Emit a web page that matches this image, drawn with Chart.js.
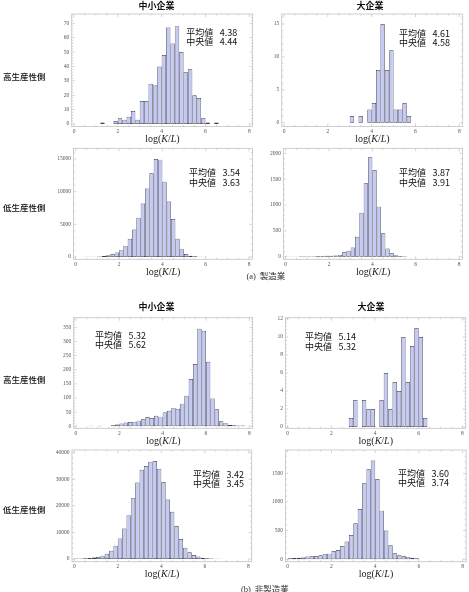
<!DOCTYPE html>
<html>
<head>
<meta charset="utf-8">
<script src="https://cdn.jsdelivr.net/npm/chart.js@4.4.1/dist/chart.umd.min.js"></script>
<style>
  html, body { margin: 0; padding: 0; background: #fff; }
  #root { position: relative; width: 469px; height: 592px; overflow: hidden; background: #fff; }
  canvas { position: absolute; }
  .t { position: absolute; white-space: nowrap; color: #111; }
  .cjk { font-family: "Noto Sans CJK JP", "Noto Sans", sans-serif; }
  .title { font-size: 9px; font-weight: 700; line-height: 9px; }
  .row { font-size: 8.5px; font-weight: 500; line-height: 9px; }
  .stat { font-size: 9px; line-height: 9px; }
  .stat span.k { display: inline-block; width: 33.5px; }
  .xl { font-family: "Liberation Serif", "DejaVu Serif", serif; font-size: 10px; line-height: 10px; color: #222; }
  .cap { font-size: 8.5px; line-height: 9px; color: #333; }
  .cap .p { font-family: "Liberation Serif", serif; }
</style>
</head>
<body>
<div id="root"></div>
<script>
// ---- data ----
const bins = [0.1,0.3,0.5,0.7,0.9,1.1,1.3,1.5,1.7,1.9,2.1,2.3,2.5,2.7,2.9,3.1,3.3,3.5,3.7,3.9,
              4.1,4.3,4.5,4.7,4.9,5.1,5.3,5.5,5.7,5.9,6.1,6.3,6.5,6.7,6.9,7.1,7.3,7.5,7.7,7.9];

const mfgSmallHigh = [0,0,0,0,0,0,1,0,0,2, 4,3,5,9,3,16,16,28,27,40, 48,67,56,68,50,36,38,20,18,4, 1,0,1,0,0,0,0,0,0,0];
const mfgLargeHigh = [0,0,0,0,0,0,0,0,0,0, 0,0,0,0,0,1,0,1,0,2, 3,8,15,8,11,2,2,3,1,0, 0,0,0,0,0,0,0,0,0,0];
const mfgSmallLow  = [10,15,20,30,50,80,150,280,450,700, 1050,1700,2800,4200,6000,8200,10500,12800,15000,14900,
                      11500,8500,5800,2800,1200,450,200,100,50,20, 0,0,0,0,0,0,0,0,0,0];
const mfgLargeLow  = [5,5,5,8,8,10,10,12,15,20, 20,25,35,84,116,180,387,851,1419,1925,
                      1677,968,452,161,65,30,15,8,0,0, 0,0,0,0,0,0,0,0,0,0];
const nonSmallHigh = [0,0,0,2,0,2,0,0,4,6, 10,13,15,16,20,25,33,29,37,34,
                      50,55,65,62,80,108,167,220,345,338, 228,98,60,18,12,5,4,3,3,0];
const nonLargeHigh = [0,0,0,0,0,0,0,0,0,0, 0,0,0,0,1,3,0,3,2,2, 0,3,6,2,5,4,10,5,9,11, 10,1,0,0,0,0,0,0,0,0];
const nonSmallLow  = [150,200,300,400,550,750,1250,2000,3100,5000, 7750,11500,16500,23000,28750,33600,35000,36600,36900,33900,
                      29000,22400,17750,12400,7500,4250,2500,1500,900,500, 300,200,120,60,30,0,0,0,0,0];
const nonLargeLow  = [15,20,25,30,45,50,55,70,92,97, 144,161,231,308,424,628,878,1327,1572,1724,
                      1403,849,500,243,103,70,55,40,25,15, 0,0,0,0,0,0,0,0,0,0];

const xTicks = [0, 2, 4, 6, 8];
const yTicks1 = [0,10,20,30,40,50,60,70];
const yTicks2 = [0,5,10,15];
const yTicks3 = [0,5000,10000,15000];
const yTicks4 = [0,500,1000,1500,2000];
const yTicks5 = [0,50,100,150,200,250,300,350];
const yTicks6 = [0,2,4,6,8,10,12];
const yTicks7 = [0,10000,20000,30000,40000];
const yTicks8 = [0,500,1000,1500];

const meanVals   = ['4.38','4.61','3.54','3.87','5.32','5.14','3.42','3.60'];
const medianVals = ['4.44','4.58','3.63','3.91','5.62','5.32','3.45','3.74'];
const meanLabel = '平均値', medianLabel = '中央値';
const colTitles = ['中小企業', '大企業'];
const rowTitles = ['高生産性側', '低生産性側'];
const xAxisLabel = 'log(<i>K</i>/<i>L</i>)';
const captions = ['(a)', '製造業', '(b)', '非製造業'];

// ---- layout (positions/sizes) ----
const panels = [
  {counts: mfgSmallHigh, yt: yTicks1, l:71.7, r:252.7, t:14,    b:126.5, ymin:-1.74, ymax:76.46, sx:186.2, sy:32.3},
  {counts: mfgLargeHigh, yt: yTicks2, l:281.7,r:462.7, t:14,    b:126.5, ymin:-0.58, ymax:16.52, sx:399,   sy:33},
  {counts: mfgSmallLow,  yt: yTicks3, l:73.4, r:252.4, t:148.3, b:259.3, ymin:-352,  ymax:16638, sx:189,   sy:172.7},
  {counts: mfgLargeLow,  yt: yTicks4, l:283.4,r:462.4, t:148.3, b:259.3, ymin:-50,   ymax:2097,  sx:399,   sy:172.7},
  {counts: nonSmallHigh, yt: yTicks5, l:73.7, r:252.7, t:317.7, b:428.3, ymin:-7.1,  ymax:383.9, sx:95,    sy:335},
  {counts: nonLargeHigh, yt: yTicks6, l:285.4,r:465.7, t:317.7, b:428.3, ymin:-0.14, ymax:12.14, sx:305,   sy:336.7},
  {counts: nonSmallLow,  yt: yTicks7, l:72,   r:251.7, t:450,   b:561.7, ymin:-1016, ymax:41016, sx:193,   sy:474.3},
  {counts: nonLargeLow,  yt: yTicks8, l:285.4,r:466.1, t:450,   b:561.7, ymin:-44,   ymax:1909,  sx:398,   sy:473.3}
];
const XMIN = -0.105, XMAX = 8.155;
const LW = 28, BH = 12;
const BAR_FILL = '#c5caf3';
const BAR_EDGE = '#3b3b4e';

const root = document.getElementById('root');
function addText(html, cls, x, y, align) {
  const d = document.createElement('div');
  d.className = 't ' + cls;
  d.innerHTML = html;
  root.appendChild(d);
  const w = d.offsetWidth, h = d.offsetHeight;
  const left = align === 'center' ? x - w / 2 : x;
  d.style.left = left + 'px';
  d.style.top = (y - h / 2) + 'px';
  return d;
}

const framePlugin = {
  id: 'frame',
  afterDatasetsDraw(chart, args, opts) {
    const {ctx, chartArea: a, scales: {x, y}} = chart;
    ctx.save();
    ctx.strokeStyle = '#a8a8a8';
    ctx.lineWidth = 0.5;
    ctx.beginPath();
    for (let k = 0; k <= 16; k++) {
      const v = k * 0.5;
      const px = x.getPixelForValue(v);
      const len = (k % 4 === 0) ? 3 : 1.5;
      ctx.moveTo(px, a.bottom); ctx.lineTo(px, a.bottom - len);
      ctx.moveTo(px, a.top); ctx.lineTo(px, a.top + len);
    }
    const yt = opts.yt;
    const step = yt[1] - yt[0];
    for (let k = 0; k <= (yt.length) * 5; k++) {
      const v = k * step / 5;
      if (v > y.max) break;
      const py = y.getPixelForValue(v);
      const len = (k % 5 === 0) ? 3 : 1.5;
      ctx.moveTo(a.left, py); ctx.lineTo(a.left + len, py);
      ctx.moveTo(a.right, py); ctx.lineTo(a.right - len, py);
    }
    ctx.stroke();
    ctx.strokeStyle = '#c2c2c2';
    ctx.lineWidth = 0.8;
    ctx.strokeRect(a.left, a.top, a.right - a.left, a.bottom - a.top);
    ctx.restore();
  }
};

panels.forEach((p, i) => {
  const cl = Math.floor(p.l) - LW;
  const ct = Math.floor(p.t) - 6;
  const cw = Math.ceil(p.r) + 8 - cl;
  const ch = Math.ceil(p.b) + BH + 2 - ct;
  const cv = document.createElement('canvas');
  cv.width = cw; cv.height = ch;
  cv.style.left = cl + 'px'; cv.style.top = ct + 'px';
  cv.style.width = cw + 'px'; cv.style.height = ch + 'px';
  root.appendChild(cv);
  const pad = { left: p.l - cl - LW, top: p.t - ct, right: cl + cw - p.r, bottom: ct + ch - BH - p.b };
  new Chart(cv, {
    type: 'bar',
    data: {
      datasets: [{
        data: bins.map((b, j) => ({ x: b, y: p.counts[j] })),
        backgroundColor: BAR_FILL,
        borderColor: BAR_EDGE,
        borderWidth: c => (c.raw && c.raw.y > 0) ? 0.7 : 0,
        borderSkipped: false,
        inflateAmount: 0,
        barPercentage: 1,
        categoryPercentage: 1
      }]
    },
    options: {
      responsive: false,
      animation: false,
      devicePixelRatio: 1,
      layout: { padding: pad },
      plugins: { legend: { display: false }, tooltip: { enabled: false }, frame: { yt: p.yt } },
      scales: {
        x: {
          type: 'linear', min: XMIN, max: XMAX, offset: false,
          grid: { display: false, drawTicks: false }, border: { display: false },
          afterBuildTicks: s => { s.ticks = xTicks.map(v => ({ value: v })); },
          afterFit: s => { s.height = BH; },
          ticks: { font: { family: 'Liberation Serif', size: 5.5 }, color: '#555', padding: 2,
                   maxRotation: 0, autoSkip: false, callback: v => String(v) }
        },
        y: {
          type: 'linear', min: p.ymin, max: p.ymax,
          grid: { display: false, drawTicks: false }, border: { display: false },
          afterBuildTicks: s => { s.ticks = p.yt.map(v => ({ value: v })); },
          afterFit: s => { s.width = LW; },
          ticks: { font: { family: 'Liberation Serif', size: 5.5 }, color: '#555', padding: 2.5,
                   autoSkip: false, callback: v => String(v) }
        }
      }
    },
    plugins: [framePlugin]
  });
  // stats
  addText('<span class="k">' + meanLabel + '</span>' + meanVals[i], 'cjk stat', p.sx, p.sy, 'left');
  addText('<span class="k">' + medianLabel + '</span>' + medianVals[i], 'cjk stat', p.sx, p.sy + 9.4, 'left');
  // x axis label
  addText(xAxisLabel, 'xl', (p.l + p.r) / 2, p.b + 12.2, 'center');
});

// column titles
addText(colTitles[0], 'cjk title', 156.5, 5.2, 'center');
addText(colTitles[1], 'cjk title', 370, 5.2, 'center');
addText(colTitles[0], 'cjk title', 156.5, 306.8, 'center');
addText(colTitles[1], 'cjk title', 371, 306.8, 'center');
// row titles
addText(rowTitles[0], 'cjk row', 3, 76, 'left');
addText(rowTitles[1], 'cjk row', 3, 207, 'left');
addText(rowTitles[0], 'cjk row', 3, 379.5, 'left');
addText(rowTitles[1], 'cjk row', 3, 509, 'left');
// captions
addText('<span class="p">' + captions[0] + '</span>&nbsp;&nbsp;' + captions[1], 'cjk cap', 266, 275.7, 'center');
addText('<span class="p">' + captions[2] + '</span>&nbsp;&nbsp;' + captions[3], 'cjk cap', 265, 588.5, 'center');
</script>
</body>
</html>
